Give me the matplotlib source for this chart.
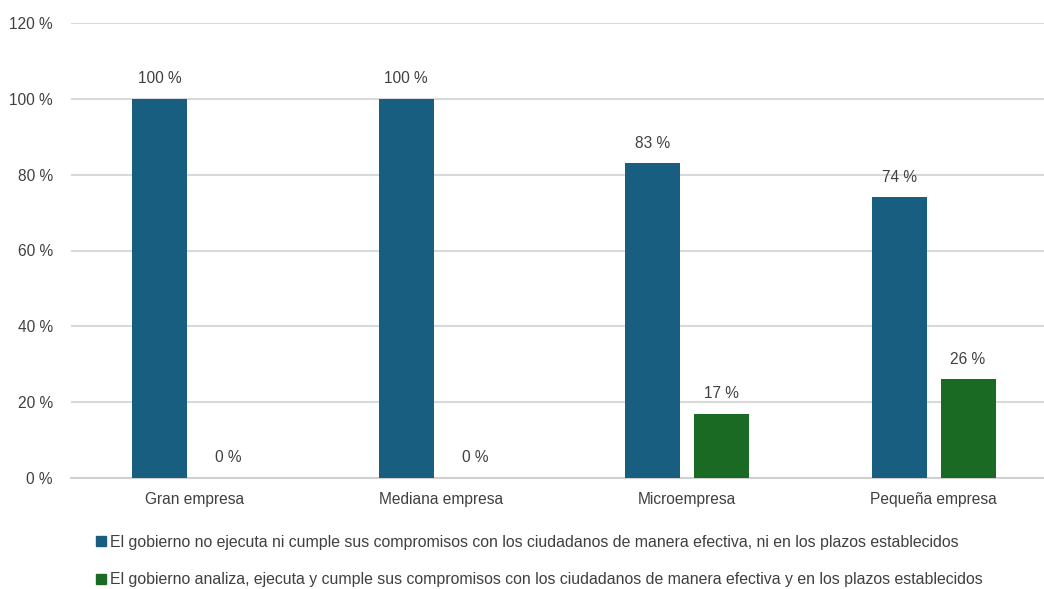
import matplotlib
matplotlib.use("Agg")
import matplotlib.pyplot as plt
import numpy as np
from matplotlib.patches import Patch

plt.rcParams['font.family'] = ['Liberation Sans', 'DejaVu Sans']

categories = ["Gran empresa", "Mediana empresa", "Microempresa", "Pequeña empresa"]
serie_no = [100, 100, 83, 74]
serie_si = [0, 0, 17, 26]
series_names = [
    "El gobierno no ejecuta ni cumple sus compromisos con los ciudadanos de manera efectiva, ni en los plazos establecidos",
    "El gobierno analiza, ejecuta y cumple sus compromisos con los ciudadanos de manera efectiva y en los plazos establecidos",
]
yticks = [0, 20, 40, 60, 80, 100, 120]

c_blue = "#175E80"
c_green = "#1B6A23"
txt = "#404040"
fs = 11.2

fig = plt.figure(figsize=(10.44, 5.89), dpi=100)
ax = fig.add_axes([71/1044, 1 - 478/589, 1 - 71/1044, (478 - 23)/589])

x = np.arange(len(categories))
w = 0.223
off = 0.14
b1 = ax.bar(x - off, serie_no, w, color=c_blue, zorder=3)
b2 = ax.bar(x + off, serie_si, w, color=c_green, zorder=3)

for bars, vals in ((b1, serie_no), (b2, serie_si)):
    for r, v in zip(bars, vals):
        ax.annotate(f"{v} %", (r.get_x() + r.get_width()/2, v), xytext=(0, 9),
                    textcoords="offset points", ha="center", va="bottom",
                    fontsize=fs, color=txt)

ax.set_xlim(-0.5, (1044 - 194)/246.5)
ax.set_ylim(0, 120)
ax.set_yticks(yticks)
ax.set_yticklabels([f"{t} %" for t in yticks])
ax.set_xticks(x)
ax.set_xticklabels(categories)
ax.tick_params(axis="both", length=0, labelsize=fs, labelcolor=txt)
ax.tick_params(axis="y", pad=13)
ax.tick_params(axis="x", pad=10)
ax.grid(axis="y", color="#d9d9d9", linewidth=1.5, zorder=0)
for s in ["top", "right", "left"]:
    ax.spines[s].set_visible(False)
ax.spines["bottom"].set_color("#d0d0d0")
ax.spines["bottom"].set_linewidth(1.5)

handles = [Patch(color=c_blue), Patch(color=c_green)]
fig.legend(handles, series_names, loc="upper left", bbox_to_anchor=(96/1044, 1 - 535/589),
           frameon=False, fontsize=11.4, labelcolor=txt, handlelength=0.6, handleheight=0.6,
           handletextpad=0.3, labelspacing=1.4, borderaxespad=0, borderpad=0)

fig.savefig("out.png", dpi=100, facecolor="white")
